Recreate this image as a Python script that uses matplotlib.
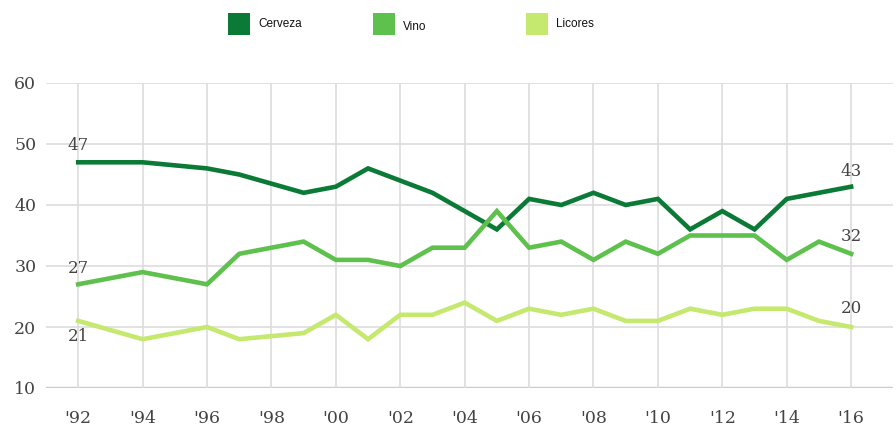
# Consumo preferido: cerveza, vino, licores (1992-2016)
import matplotlib
matplotlib.use("Agg")
import matplotlib.pyplot as plt
from matplotlib.patches import Rectangle

years = [1992, 1994, 1996, 1997, 1999, 2000, 2001, 2002, 2003, 2004, 2005,
         2006, 2007, 2008, 2009, 2010, 2011, 2012, 2013, 2014, 2015, 2016]
cerveza = [47, 47, 46, 45, 42, 43, 46, 44, 42, 39, 36,
           41, 40, 42, 40, 41, 36, 39, 36, 41, 42, 43]
vino = [27, 29, 27, 32, 34, 31, 31, 30, 33, 33, 39,
        33, 34, 31, 34, 32, 35, 35, 35, 31, 34, 32]
licores = [21, 18, 20, 18, 19, 22, 18, 22, 22, 24, 21,
           23, 22, 23, 21, 21, 23, 22, 23, 23, 21, 20]

names = ["Cerveza", "Vino", "Licores"]
colors = ["#0b7a36", "#5ec14d", "#c5e86e"]
tick_years = list(range(1992, 2017, 2))
tick_labels = ["'%02d" % (y % 100) for y in tick_years]

W, H = 896, 430
fig = plt.figure(figsize=(W / 100, H / 100), dpi=100)
# axes box in pixels: left 46, right 893, top 83, bottom 388
ax = fig.add_axes([46 / W, 1 - 388 / H, (893 - 46) / W, (388 - 83) / H])

series = [cerveza, vino, licores]
for vals, c in zip(series, colors):
    ax.plot(years, vals, color=c, lw=3.3, solid_joinstyle="miter", zorder=3)

ax.set_xlim(1991.0, 2017.3)
ax.set_ylim(10, 60)
ax.set_yticks([10, 20, 30, 40, 50, 60])
ax.set_xticks(tick_years)
ax.set_xticklabels(tick_labels)

for s in ax.spines.values():
    s.set_visible(False)
ax.tick_params(length=0, labelsize=12.5, colors="#444444", pad=7)
ax.tick_params(axis="x", pad=16)
for lab in ax.get_xticklabels() + ax.get_yticklabels():
    lab.set_family("DejaVu Serif")

for y in [20, 30, 40, 50, 60]:
    ax.axhline(y, color="#dddddd", lw=1.2, zorder=1)
ax.axhline(10, color="#cccccc", lw=2.5, zorder=1)
for x in tick_years:
    ax.axvline(x, color="#dddddd", lw=1.2, zorder=1)

# value labels at the ends
lab_kw = dict(ha="center", fontsize=12, color="#444444", family="DejaVu Serif")
ax.annotate(str(cerveza[0]), (years[0], cerveza[0]), xytext=(0, 6),
            textcoords="offset points", va="bottom", **lab_kw)
ax.annotate(str(vino[0]), (years[0], vino[0]), xytext=(0, 5),
            textcoords="offset points", va="bottom", **lab_kw)
ax.annotate(str(licores[0]), (years[0], licores[0]), xytext=(0, -5),
            textcoords="offset points", va="top", **lab_kw)
ax.annotate(str(cerveza[-1]), (years[-1], cerveza[-1]), xytext=(0, 5),
            textcoords="offset points", va="bottom", **lab_kw)
ax.annotate(str(vino[-1]), (years[-1], vino[-1]), xytext=(0, 6),
            textcoords="offset points", va="bottom", **lab_kw)
ax.annotate(str(licores[-1]), (years[-1], licores[-1]), xytext=(0, 7),
            textcoords="offset points", va="bottom", **lab_kw)

# legend squares across the top
leg_x = [228, 373, 526]
leg_dy = [0, 3, 0]
for i, (name, c) in enumerate(zip(names, colors)):
    fig.add_artist(Rectangle((leg_x[i] / W, 1 - 35 / H), 22 / W, 22 / H,
                             transform=fig.transFigure, facecolor=c,
                             edgecolor="none"))
    fig.text((leg_x[i] + 30) / W, 1 - (24 + leg_dy[i]) / H, name,
             fontsize=8.5, va="center", ha="left", color="#111111",
             family="Liberation Sans")

plt.savefig("out.png", dpi=100)
